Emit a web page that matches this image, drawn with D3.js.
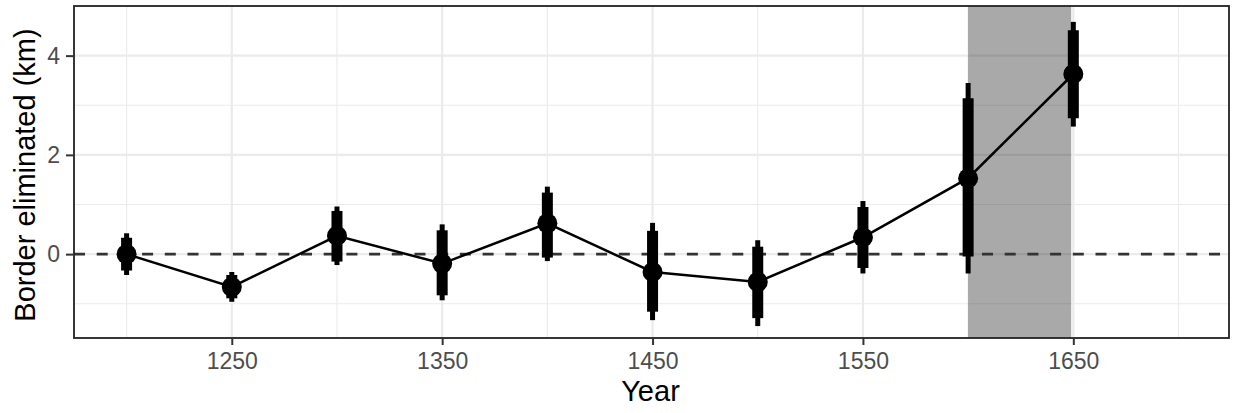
<!DOCTYPE html>
<html>
<head>
<meta charset="utf-8">
<script src="https://cdn.jsdelivr.net/npm/d3@7"></script>
<style>
  body { margin: 0; background: #fff; }
  svg { display: block; font-family: "Liberation Sans", Arial, sans-serif; }
</style>
</head>
<body>
<svg id="chart" width="1235" height="413"></svg>
<script>
// data
const years = [1200, 1250, 1300, 1350, 1400, 1450, 1500, 1550, 1600, 1650];
const estimate = [0.0, -0.66, 0.37, -0.19, 0.62, -0.36, -0.56, 0.34, 1.53, 3.63];
const outerLo = [-0.42, -0.96, -0.22, -0.93, -0.14, -1.33, -1.45, -0.39, -0.39, 2.57];
const outerHi = [0.42, -0.36, 0.96, 0.60, 1.36, 0.63, 0.28, 1.07, 3.45, 4.68];
const innerLo = [-0.33, -0.89, -0.15, -0.83, -0.07, -1.16, -1.29, -0.28, -0.05, 2.74];
const innerHi = [0.33, -0.42, 0.87, 0.48, 1.24, 0.47, 0.15, 0.95, 3.14, 4.51];
const shade = [1600, 1649];
const xTicks = [1250, 1350, 1450, 1550, 1650];
const xMinor = [1200, 1300, 1400, 1500, 1600, 1700];
const yTicks = [0, 2, 4];
const yMinor = [-1, 1, 3];

const svg = d3.select('#chart');
const m = { left: 74, right: 1229, top: 6, bottom: 338 };

const x = d3.scaleLinear().domain([1175, 1724]).range([m.left, m.right]);
const y = d3.scaleLinear().domain([-1.69, 5.0]).range([m.bottom, m.top]);

const pts = years.map((yr, i) => ({
  yr, est: estimate[i], olo: outerLo[i], ohi: outerHi[i], ilo: innerLo[i], ihi: innerHi[i]
}));

// grid
const grid = svg.append('g');
grid.selectAll('.minx').data(xMinor).join('line')
  .attr('x1', d => x(d)).attr('x2', d => x(d)).attr('y1', m.top).attr('y2', m.bottom)
  .attr('stroke', '#ebebeb').attr('stroke-width', 1.1);
grid.selectAll('.miny').data(yMinor).join('line')
  .attr('x1', m.left).attr('x2', m.right).attr('y1', d => y(d)).attr('y2', d => y(d))
  .attr('stroke', '#ebebeb').attr('stroke-width', 1.1);
grid.selectAll('.majx').data(xTicks).join('line')
  .attr('x1', d => x(d)).attr('x2', d => x(d)).attr('y1', m.top).attr('y2', m.bottom)
  .attr('stroke', '#ebebeb').attr('stroke-width', 2.2);
grid.selectAll('.majy').data(yTicks).join('line')
  .attr('x1', m.left).attr('x2', m.right).attr('y1', d => y(d)).attr('y2', d => y(d))
  .attr('stroke', '#ebebeb').attr('stroke-width', 2.2);

// shaded period
svg.append('rect')
  .attr('x', x(shade[0])).attr('width', x(shade[1]) - x(shade[0]))
  .attr('y', m.top).attr('height', m.bottom - m.top)
  .attr('fill', '#000').attr('fill-opacity', 0.337);

// zero reference
svg.append('line')
  .attr('x1', m.left).attr('x2', m.right).attr('y1', y(0)).attr('y2', y(0))
  .attr('stroke', '#333').attr('stroke-width', 2.6).attr('stroke-dasharray', '11,11.7');

// connecting line
svg.append('path').datum(pts)
  .attr('d', d3.line().x(d => x(d.yr)).y(d => y(d.est)))
  .attr('fill', 'none').attr('stroke', '#000').attr('stroke-width', 2.5);

// intervals
svg.append('g').selectAll('line').data(pts).join('line')
  .attr('x1', d => x(d.yr)).attr('x2', d => x(d.yr))
  .attr('y1', d => y(d.olo)).attr('y2', d => y(d.ohi))
  .attr('stroke', '#000').attr('stroke-width', 5);
svg.append('g').selectAll('line').data(pts).join('line')
  .attr('x1', d => x(d.yr)).attr('x2', d => x(d.yr))
  .attr('y1', d => y(d.ilo)).attr('y2', d => y(d.ihi))
  .attr('stroke', '#000').attr('stroke-width', 11);

svg.append('g').selectAll('circle').data(pts).join('circle')
  .attr('cx', d => x(d.yr)).attr('cy', d => y(d.est)).attr('r', 10)
  .attr('fill', '#000');

// panel border
svg.append('rect')
  .attr('x', m.left).attr('y', m.top)
  .attr('width', m.right - m.left).attr('height', m.bottom - m.top)
  .attr('fill', 'none').attr('stroke', '#222').attr('stroke-width', 1.8);

// axes
const xAxis = svg.append('g').attr('transform', `translate(0,${m.bottom})`)
  .call(d3.axisBottom(x).tickValues(xTicks).tickFormat(d3.format('d')).tickSize(7).tickPadding(8));
const yAxis = svg.append('g').attr('transform', `translate(${m.left},0)`)
  .call(d3.axisLeft(y).tickValues(yTicks).tickFormat(d3.format('d')).tickSize(8).tickPadding(6));
[xAxis, yAxis].forEach(a => {
  a.attr('font-size', 23).attr('font-family', '"Liberation Sans", Arial, sans-serif');
  a.select('.domain').remove();
  a.selectAll('line').attr('stroke', '#333').attr('stroke-width', 2);
  a.selectAll('text').attr('fill', '#4d4d4d');
});

svg.append('text')
  .attr('x', (m.left + m.right) / 2 - 1).attr('y', 401)
  .attr('text-anchor', 'middle').attr('font-size', 29).text('Year');
svg.append('text')
  .attr('transform', `translate(35,${(m.top + m.bottom) / 2 + 3}) rotate(-90)`)
  .attr('text-anchor', 'middle').attr('font-size', 29).text('Border eliminated (km)');
</script>
</body>
</html>
